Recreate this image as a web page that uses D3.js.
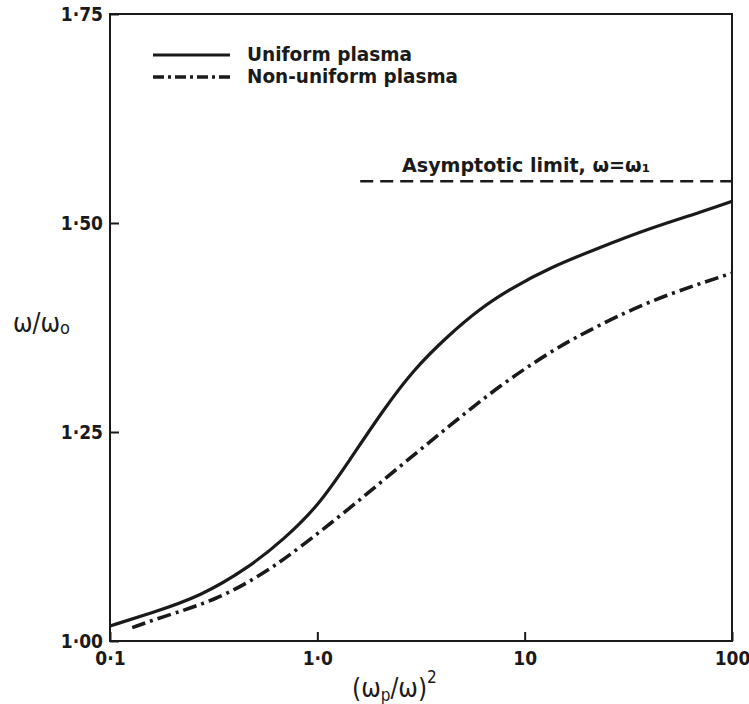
<!DOCTYPE html>
<html>
<head>
<meta charset="utf-8">
<script src="https://cdn.jsdelivr.net/npm/d3@7"></script>
<style>
  html, body { margin: 0; padding: 0; background: #fff; }
  svg { display: block; }
  text { font-family: "DejaVu Sans Condensed", "DejaVu Sans", sans-serif; fill: #1a1a1a; }
</style>
</head>
<body>
<svg id="chart" width="749" height="704"></svg>
<script>
// ---- data ----
const xTicks = [0.1, 1, 10, 100];
const xTickLabels = ["0·1", "1·0", "10", "100"];
const yTicks = [1.00, 1.25, 1.50, 1.75];
const yTickLabels = ["1·00", "1·25", "1·50", "1·75"];

const uniformX = [0.1, 0.156, 0.272, 0.474, 0.683, 1.0, 1.438, 2.075, 2.897, 4.22, 6.10, 8.79, 12.8, 23.1, 40.3, 72.6, 100];
const uniformY = [1.018, 1.033, 1.053, 1.089, 1.121, 1.160, 1.217, 1.276, 1.324, 1.364, 1.398, 1.423, 1.445, 1.471, 1.494, 1.514, 1.526];

const nonUniformX = [0.128, 0.174, 0.328, 0.572, 0.825, 1.44, 2.50, 4.37, 7.61, 13.3, 19.1, 40.3, 100];
const nonUniformY = [1.016, 1.028, 1.049, 1.083, 1.112, 1.159, 1.209, 1.258, 1.306, 1.346, 1.368, 1.408, 1.440];

const asymptoteX = [1.61, 100];
const asymptoteValue = 1.55;

const legendLabels = ["Uniform plasma", "Non-uniform plasma"];

// ---- layout ----
const svg = d3.select("#chart");
const mLeft = 110, mRight = 732, mTop = 14, mBottom = 641;
const x = d3.scaleLog().domain([0.1, 100]).range([mLeft, mRight]);
const y = d3.scaleLinear().domain([1.0, 1.75]).range([mBottom, mTop]);
const ink = "#1a1a1a";
const fam = "'DejaVu Sans Condensed','DejaVu Sans',sans-serif";

// frame
svg.append("rect")
  .attr("x", mLeft).attr("y", mTop)
  .attr("width", mRight - mLeft).attr("height", mBottom - mTop)
  .attr("fill", "none").attr("stroke", ink).attr("stroke-width", 2);

// bottom axis (inward ticks)
const xAxis = d3.axisBottom(x).tickValues(xTicks).tickSize(-9)
  .tickFormat((d, i) => xTickLabels[i]).tickPadding(11);
const gx = svg.append("g").attr("transform", `translate(0,${mBottom})`).call(xAxis);
gx.select(".domain").remove();
gx.selectAll(".tick line").attr("stroke", ink).attr("stroke-width", 2);
gx.selectAll(".tick text").attr("font-size", 19).attr("fill", ink)
  .attr("font-family", fam).style("font-weight", "bold");

// left axis (inward ticks)
const yAxis = d3.axisLeft(y).tickValues(yTicks).tickSize(-9)
  .tickFormat((d, i) => yTickLabels[i]).tickPadding(7);
const gy = svg.append("g").attr("transform", `translate(${mLeft},0)`).call(yAxis);
gy.select(".domain").remove();
gy.selectAll(".tick line").attr("stroke", ink).attr("stroke-width", 2);
gy.selectAll(".tick text").attr("font-size", 19).attr("fill", ink)
  .attr("font-family", fam).style("font-weight", "bold");

// curves
const line = d3.line().x(d => x(d[0])).y(d => y(d[1])).curve(d3.curveBasis);

svg.append("path")
  .datum(uniformX.map((v, i) => [v, uniformY[i]]))
  .attr("d", line).attr("fill", "none").attr("stroke", ink).attr("stroke-width", 3.2);

svg.append("path")
  .datum(nonUniformX.map((v, i) => [v, nonUniformY[i]]))
  .attr("d", line).attr("fill", "none").attr("stroke", ink).attr("stroke-width", 3.6)
  .attr("stroke-dasharray", "14,5,3,5");

// asymptote
svg.append("line")
  .attr("x1", x(asymptoteX[0])).attr("x2", x(asymptoteX[1]))
  .attr("y1", y(asymptoteValue)).attr("y2", y(asymptoteValue))
  .attr("stroke", ink).attr("stroke-width", 2.5).attr("stroke-dasharray", "13,7");

svg.append("text")
  .attr("x", 402).attr("y", 172)
  .attr("font-size", 19).style("font-weight", "bold")
  .attr("textLength", 248).attr("lengthAdjust", "spacingAndGlyphs")
  .text("Asymptotic limit, ω=ω₁");

// legend
const legY = [55, 77];
svg.append("line").attr("x1", 153).attr("x2", 230).attr("y1", legY[0]).attr("y2", legY[0])
  .attr("stroke", ink).attr("stroke-width", 3.2);
svg.append("line").attr("x1", 153).attr("x2", 230).attr("y1", legY[1]).attr("y2", legY[1])
  .attr("stroke", ink).attr("stroke-width", 3.6).attr("stroke-dasharray", "11,4,3,4");
svg.append("text").attr("x", 247).attr("y", legY[0] + 6).attr("font-size", 19).style("font-weight", "bold")
  .attr("textLength", 165).attr("lengthAdjust", "spacingAndGlyphs").text(legendLabels[0]);
svg.append("text").attr("x", 247).attr("y", legY[1] + 6).attr("font-size", 19).style("font-weight", "bold")
  .attr("textLength", 211).attr("lengthAdjust", "spacingAndGlyphs").text(legendLabels[1]);

// axis titles
const yt = svg.append("text").attr("x", 13).attr("y", 332).attr("font-size", 26).style("font-weight", "normal");
yt.append("tspan").text("ω/ω");
yt.append("tspan").attr("font-size", 18).attr("dy", 2).text("o");

const xt = svg.append("text").attr("x", 352).attr("y", 697).attr("font-size", 26).style("font-weight", "normal");
xt.append("tspan").text("(ω");
xt.append("tspan").attr("font-size", 17).attr("dy", 4).text("p");
xt.append("tspan").attr("dy", -4).text("/ω)");
xt.append("tspan").attr("font-size", 17).attr("dy", -14).text("2");
</script>
</body>
</html>
